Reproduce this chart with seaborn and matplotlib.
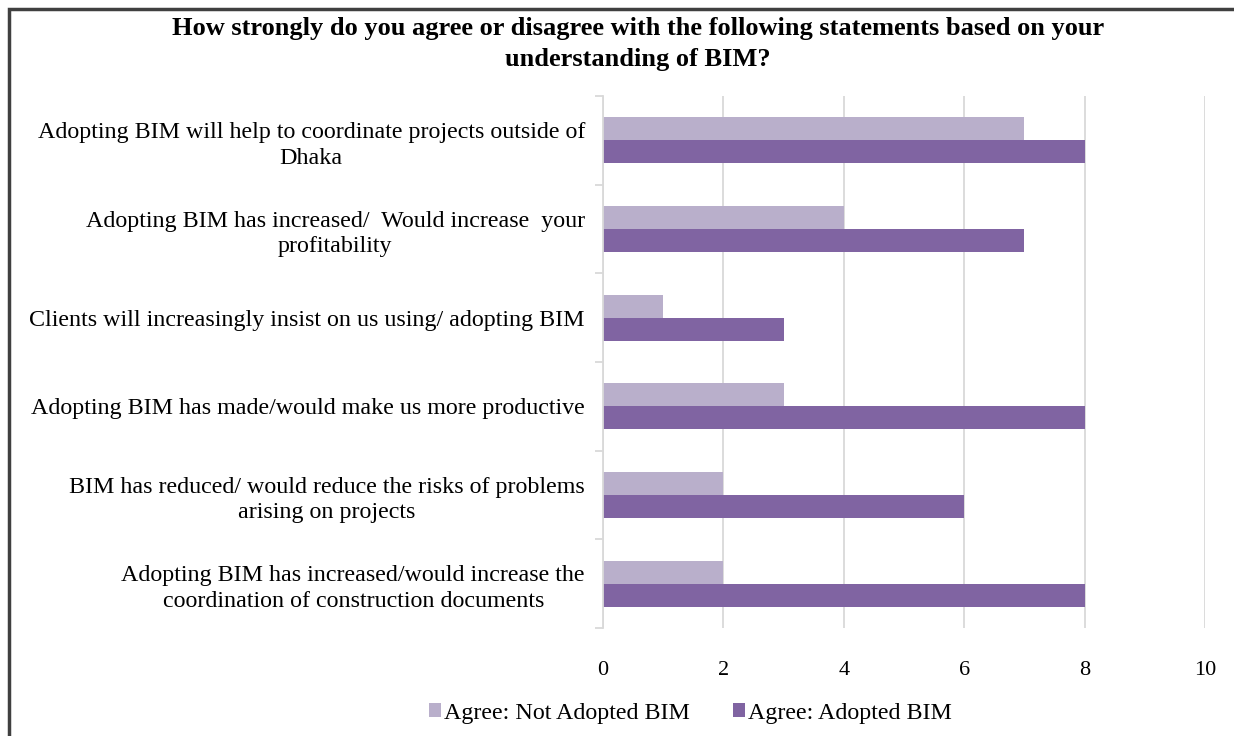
import matplotlib
matplotlib.use("Agg")
import matplotlib.pyplot as plt
import seaborn as sns
import pandas as pd
from matplotlib.patches import Rectangle

categories = [
    "Adopting BIM will help to coordinate projects outside of\nDhaka",
    "Adopting BIM has increased/  Would increase  your\nprofitability",
    "Clients will increasingly insist on us using/ adopting BIM",
    "Adopting BIM has made/would make us more productive",
    "BIM has reduced/ would reduce the risks of problems\narising on projects",
    "Adopting BIM has increased/would increase the\ncoordination of construction documents",
]
not_adopted = [7, 4, 1, 3, 2, 2]
adopted = [8, 7, 3, 8, 6, 8]
series_names = ["Agree: Not Adopted BIM", "Agree: Adopted BIM"]
colors = ["#B9AFCB", "#8064A2"]
x_ticks = [0, 2, 4, 6, 8, 10]

df = pd.DataFrame({
    "category": categories * 2,
    "value": not_adopted + adopted,
    "series": [series_names[0]] * len(categories) + [series_names[1]] * len(categories),
})

sns.set_style("white", {"text.color": "black", "xtick.color": "black", "ytick.color": "black"})
plt.rcParams["font.family"] = ["Liberation Serif", "DejaVu Serif"]

fig = plt.figure(figsize=(12.34, 7.36), dpi=100)
ax = fig.add_axes([603 / 1234, 1 - 628 / 736, (1205 - 603) / 1234, (628 - 96) / 736])

sns.barplot(data=df, x="value", y="category", hue="series", orient="h",
            hue_order=series_names, palette=colors, width=0.52, ax=ax,
            saturation=1, legend=True, linewidth=0)

ax.set_xlim(0, 10)
ax.set_xticks(x_ticks)
ax.set_xticklabels([str(t) for t in x_ticks], fontsize=16)
ax.set_xlabel("")
ax.set_ylabel("")
ax.grid(axis="x", color="#D9D9D9", linewidth=1.3)
ax.set_axisbelow(True)
for s in ["top", "right", "bottom"]:
    ax.spines[s].set_visible(False)
ax.spines["left"].set_color("#D9D9D9")
ax.spines["left"].set_linewidth(1.3)

# category boundary ticks
ax.set_yticks([i - 0.5 for i in range(len(categories) + 1)], minor=True)
ax.tick_params(axis="y", which="minor", length=6, color="#D9D9D9", width=1.3, left=True)
ax.tick_params(axis="y", which="major", length=0, pad=13, labelsize=17.3, labelcolor="black")
ax.tick_params(axis="x", length=0, pad=24, labelcolor="black")
for lab in ax.get_yticklabels():
    lab.set_multialignment("center")
    lab.set_linespacing(1.3)
ax.set_ylim(len(categories) - 0.5, -0.5)

# legend
handles, labels = ax.get_legend_handles_labels()
ax.get_legend().remove()
fig.legend(handles, labels, loc="center", bbox_to_anchor=(690 / 1234, 1 - 713 / 736),
           ncol=2, frameon=False, fontsize=17.3, handlelength=0.5, handleheight=0.5,
           handletextpad=0.12, columnspacing=1.8, labelcolor="black")

fig.text(638 / 1234, 1 - 44 / 736,
         "How strongly do you agree or disagree with the following statements based on your\nunderstanding of BIM?",
         ha="center", va="center", fontsize=19, fontweight="bold", linespacing=1.4,
         color="black")

fig.patches.append(Rectangle((9 / 1234, -0.1), 1.2, 1 - 9 / 736 + 0.1,
                             transform=fig.transFigure, fill=False,
                             edgecolor="#404040", linewidth=2.5))

fig.savefig("out.png", dpi=100)
